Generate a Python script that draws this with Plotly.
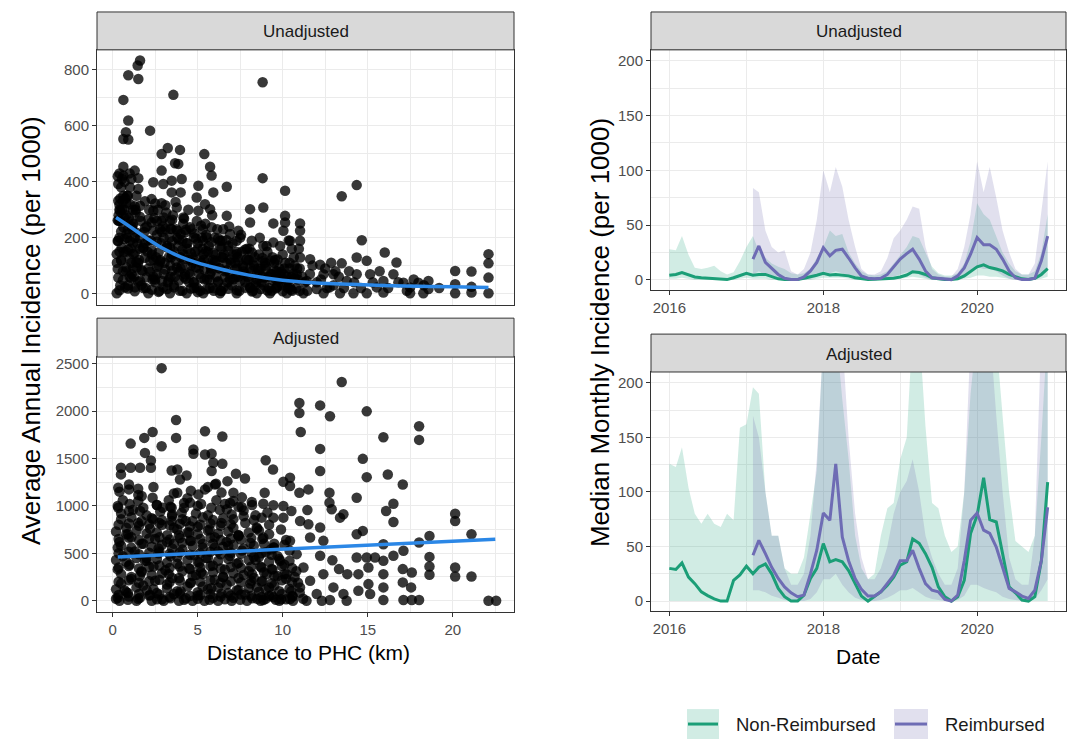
import plotly.graph_objects as go
import pandas as pd

W, H = 1072, 739
def px(x): return x / W
def py(y): return 1 - y / H

# ---------------- DATA ----------------
# Unadjusted: distance (km) vs average annual incidence (per 1000)
unadj_x = [1.61,1.47,0.92,1.51,8.82,3.57,0.63,0.92,0.78,0.63,0.92,2.2,3.24,3.96,2.88,5.39,3.67,3.86,5.73,5.82,
           0.63,2.88,0.63,1.51,8.82,14.35,13.47,10.14,6.71,5.04,3.47,4.06,2.39,2.98,0.33,1.02,1.51,3.47,4.0,5.92,
           0.33,0.63,2.29,2.88,4.94,5.43,5.73,5.04,1.61,1.02,0.43,2.39,3.77,4.16,6.71,8.08,8.86,8.08,10.14,10.14,
           9.45,11.02,11.02,10.04,7.39,6.9,2.88,3.37,2.29,2.78,3.47,4.55,5.2,5.82,4.0,4.78,5.53,6.31,7.29,8.18,
           8.86,9.45,10.43,11.02,14.65,10.53,16.0,14.35,14.94,16.69,13.47,12.2,11.61,11.02,22.1,22.1,22.1,22.1,20.14,21.1,
           20.14,21.1,20.14,21.1,18.57,17.98,17.49,17.1,16.51,15.92,15.53,15.92,17.49,18.57,15.14,14.35,13.76,12.98,12.76,12.4,
           12.0,11.41,10.82,10.43,10.04,9.65,9.35,8.86,8.47,8.08,7.69,7.29,6.9,6.51,6.12,5.73,5.33,4.94,4.55,4.16,
           3.77,3.37,2.98,2.59,2.2,2.1,1.8,1.61,1.41,1.22,1.02,0.82,0.63,0.43,0.33,0.24,0.33,0.24,0.53,0.82,
           1.12,0.73,1.31,3.37,4.35,5.33,6.31,7.29,8.47,9.25,10.24,11.22,12.4,13.37,14.16,14.94,18.27,
           0.5,0.8,1.0,1.3,1.5,1.7,1.9,2.1,2.3,2.5,2.6,2.8,3.0,3.2,3.4,3.6,3.8,4.0,4.2,4.4,
           4.6,4.8,5.0,5.2,5.4,5.6,5.8,6.0,6.2,6.4,6.6,6.8,7.0,7.2,7.4,7.6,7.8,8.0,8.2,8.4,
           8.6,8.8,9.0,9.2,9.4,9.6,9.8,10.0,10.2,10.4,10.6,10.8,11.0,11.3,11.6,12.0,12.5,13.0,13.3,1.2,
           2.0,3.1,4.3,5.5,6.5,7.5,0.4,0.6,0.9,1.1,1.6,2.4,2.7,3.3,3.5,3.9,4.1,4.5,4.7,5.1,
           5.3,5.7,5.9,6.1,6.3,6.7,6.9,7.1,7.3,7.7,7.9,8.1,8.3,8.5,8.7,8.9,9.1,9.3,9.5,9.7,
           9.9,10.1,10.3,10.5,10.7,10.9,0.35,0.45,0.55,0.7,1.15,1.35,0.4,0.85,
           0.25,0.35,0.45,0.55,0.65,0.75,0.85,0.95,1.05,1.15,1.25,1.35,1.45,1.55,1.65,1.75,1.85,1.95,2.05,2.15,
           2.25,2.35,2.45,2.55,2.65,2.75,2.85,2.95,3.05,3.15,3.25,3.35,3.45,3.55,3.65,3.75,3.85,3.95,4.05,4.15,
           4.25,4.35,4.45,4.55,4.65,4.75,4.85,4.95,5.05,5.15,5.25,5.35,5.45,5.55,5.65,5.75,5.85,5.95,6.05,6.15,
           6.25,6.35,6.45,6.55,6.75,6.85,6.95,7.05,7.25,7.35,7.45,7.55,7.65,7.85,7.95,8.05,8.25,8.35,8.55,8.65,
           8.75,8.95,9.05,9.15,9.35,9.55,9.65,9.85,9.95,10.15,10.25,10.35,10.55,10.65,10.85,10.95,11.15,11.45,11.75,12.25,
           12.6,12.85,13.1,13.6,13.9,14.2,14.6,15.3,15.7,16.2,16.8,17.3,17.7,18.3,19.2,
           0.3,0.5,0.7,0.9,1.1,1.3,0.4,0.6,0.8,1.0,1.2,1.4,
           0.4,0.9,1.3,1.8,2.3,2.7,3.2,3.6,4.1,4.6,5.0,5.5,5.9,6.4,6.8,7.3,7.8,8.2,8.7,9.1,9.6,10.0,10.5,11.0,
           0.6,1.1,1.5,2.0,2.5,2.9,3.4,3.9,4.3,4.8,5.2,5.7,6.2,6.6,7.1,7.5,8.0,8.4,8.9,9.4,9.8,10.3,10.7,
           0.3,0.8,1.2,1.7,2.2,2.6,3.1,3.5,4.0,4.5,4.9,5.4,5.8,6.3,6.7,7.2,7.7,8.1,8.6,9.0,9.5,9.9,10.4,
           0.5,1.0,1.4,1.9,2.4,2.8,3.3,3.7,4.2,4.7,5.1,5.6,6.0,6.5,6.9,7.4,7.9,8.3,8.8,9.3,9.7,
           0.4,0.9,1.3,1.8,2.3,2.7,3.2,3.6,4.1,4.6,5.0,5.5,5.9,6.4,6.8,7.3,7.8,8.2,
           0.3,0.7,1.2,1.6,2.1,2.6,3.0,3.5,3.9,4.4,4.9,5.3,5.8,6.2,6.7,
           0.5,0.9,1.4,1.9,2.4,2.9,3.4,3.8,4.3,4.8,5.3,
           0.3,0.7,1.1,1.6,2.1,2.6,3.0,3.5,4.2,
           0.4,0.8,1.3,1.9,2.5,3.1,3.7]
unadj_y = [834,816,781,768,756,711,693,619,577,553,551,583,521,514,499,499,466,464,454,422,
           454,440,422,413,413,388,348,368,382,386,404,410,398,392,392,380,374,362,362,362,
           332,350,338,323,344,320,302,296,314,320,296,296,308,272,278,302,308,254,278,254,
           251,251,225,225,225,213,260,260,254,231,231,237,243,237,213,201,201,189,189,189,
           171,183,189,189,191,159,147,129,117,111,108,103,123,129,141,108,57,1,81,79,
           33,24,1,4,45,39,22,39,69,45,22,4,1,16,69,69,45,69,22,69,
           16,45,69,22,69,22,69,117,69,22,93,141,69,22,117,69,141,22,69,141,
           93,165,22,69,117,1,165,45,93,141,189,213,237,260,189,141,57,1,165,93,
           69,22,22,1,1,1,1,1,1,1,1,1,1,1,1,1,1,
           120,150,60,200,110,30,180,90,140,40,210,120,70,170,100,30,200,130,60,160,
           100,20,180,110,50,150,90,200,40,130,80,170,30,110,60,150,40,120,80,30,
           140,60,100,20,130,50,90,140,40,110,70,20,90,40,70,40,90,30,60,250,
           240,230,220,210,230,200,200,80,30,110,160,60,100,50,140,80,190,40,130,70,
           160,20,120,60,170,110,50,140,90,70,160,20,100,50,90,30,150,70,110,30,
           60,90,20,60,100,50,280,340,410,300,230,290,430,350,
           110,260,30,300,150,340,200,270,160,240,60,300,180,120,260,80,220,20,150,300,
           190,50,270,130,300,10,180,240,110,290,40,200,130,280,60,230,170,10,100,250,
           70,180,300,120,230,40,150,260,90,10,200,120,250,50,170,100,280,10,140,230,
           90,10,190,140,40,240,110,180,60,130,10,210,100,120,60,160,10,130,90,200,
           40,110,170,60,10,120,80,170,30,110,60,190,10,130,90,160,60,10,100,50,
           20,110,80,20,80,40,20,40,80,20,40,10,50,30,20,
           420,380,400,350,410,440,300,330,280,430,300,350,
           12,18,8,20,14,6,16,22,10,18,5,15,20,9,17,12,21,7,16,11,19,8,14,10,
           48,55,42,58,50,45,60,47,53,40,56,49,44,58,51,46,54,41,57,48,52,45,55,
           88,80,92,84,78,95,86,82,90,76,94,85,80,91,83,87,79,93,81,89,84,77,90,
           118,125,112,128,120,115,130,117,123,110,126,119,114,128,121,116,124,111,127,118,122,
           150,158,145,162,153,148,165,151,157,144,160,152,147,163,154,149,158,146,
           188,195,182,198,190,185,200,187,193,180,196,189,184,197,191,
           222,230,218,235,226,220,232,224,228,215,230,
           262,270,258,275,266,260,272,264,268,
           318,325,312,330,322,316,328]

# Adjusted
adj_x = [2.88,13.47,10.98,10.98,12.2,12.78,14.94,11.06,3.73,3.73,5.43,6.45,2.35,1.86,1.06,2.88,4.75,4.75,5.43,5.82,
         5.92,6.45,5.82,1.9,2.25,2.25,1.61,1.06,0.49,0.49,3.47,3.8,3.96,4.35,6.08,6.75,7.25,7.78,9.0,9.43,
         12.2,12.2,14.71,14.94,15.92,16.18,18.02,18.02,17.06,16.51,16.51,16.08,14.35,12.75,12.75,12.88,13.57,13.37,11.51,10.98,
         10.43,10.04,10.43,8.94,8.86,8.18,9.45,10.04,10.51,11.45,10.04,9.45,8.76,7.59,7.1,7.1,6.71,6.02,5.43,5.04,
         4.55,4.06,3.47,3.8,2.94,2.35,1.71,1.51,0.96,0.96,0.33,0.33,0.96,1.61,2.39,3.47,14.71,14.35,20.14,20.14,
         21.1,18.63,18.02,18.63,18.63,18.63,20.14,20.14,21.1,22.1,22.55,18.02,17.59,17.1,17.06,17.59,17.06,17.55,17.1,16.51,
         15.92,15.92,15.92,15.92,15.92,15.43,14.94,14.35,15.04,14.45,15.04,14.45,15.14,13.8,13.31,12.92,12.2,12.39,12.2,11.61,
         11.51,11.02,12.39,12.98,13.57,13.76,12.78,12.0,11.61,11.22,10.82,10.43,11.02,10.43,10.24,9.84,9.45,8.86,8.47,9.06,
         8.47,9.45,8.86,
         0.3,0.9,1.5,2.2,2.9,3.6,4.3,5.0,5.7,6.4,7.1,7.8,8.5,9.2,9.9,10.6,11.2,
         0.5,1.1,1.8,2.5,3.2,3.9,4.6,5.3,6.0,6.7,7.4,8.1,8.8,9.5,10.2,10.9,
         0.3,1.0,1.7,2.4,3.1,3.8,4.5,5.2,5.9,6.6,7.3,8.0,8.7,9.4,10.1,10.8,
         0.6,1.3,2.0,2.7,3.4,4.1,4.8,5.5,6.2,6.9,7.6,8.3,9.0,9.7,10.4,
         0.4,1.1,1.8,2.5,3.2,3.9,4.6,5.3,6.0,6.7,7.4,8.1,8.8,9.5,10.2,
         0.8,1.5,2.2,2.9,3.6,4.3,5.0,5.7,6.4,7.1,7.8,8.5,9.2,9.9,
         0.5,1.2,2.0,2.8,3.5,4.2,4.9,5.6,6.3,7.0,7.7,8.4,9.1,
         1.5,2.6,3.3,4.4,5.2,6.1,6.9,7.6,0.6,
         0.4,1.4,2.3,3.0,3.9,4.7,5.4,6.2,7.0,7.9,8.7,9.8,10.6,11.4,12.3,
         0.7,1.6,2.4,3.3,4.0,4.9,5.8,6.5,7.3,8.2,9.0,9.7,10.5,
         0.3,1.9,3.6,5.1,6.8,8.4,0.9,2.7,4.5,6.0,7.4,9.3,
         0.2,0.8,1.4,2.0,2.6,3.2,3.8,4.4,5.0,5.6,6.2,6.8,7.4,8.0,8.6,9.2,9.8,10.4,11.0,
         0.5,1.1,1.7,2.3,2.9,3.5,4.1,4.7,5.3,5.9,6.5,7.1,7.7,8.3,8.9,9.5,10.1,10.7,
         0.2,0.8,1.4,2.0,2.6,3.2,3.8,4.4,5.0,5.6,6.2,6.8,7.4,8.0,8.6,9.2,9.8,10.4,
         0.5,1.1,1.7,2.3,2.9,3.5,4.1,4.7,5.3,5.9,6.5,7.1,7.7,8.3,8.9,9.5,10.1,
         0.2,0.8,1.4,2.0,2.6,3.2,3.8,4.4,5.0,5.6,6.2,6.8,7.4,8.0,8.6,9.2,
         0.5,1.1,1.7,2.3,2.9,3.5,4.1,4.7,5.3,5.9,6.5,7.1,7.7,8.3,
         0.3,1.0,1.8,2.6,3.4,4.2,5.0,5.8,6.6,7.4,8.2,
         0.4,1.5,2.4,3.6,4.6,5.6,6.4,
         0.2,0.9,1.6,2.6,3.4,4.2,5.0,5.9,6.6,7.5,8.2,9.0,9.6,10.2,
         0.35,0.95,1.55,2.15,2.75,3.35,3.95,4.55,5.15,5.75,6.35,6.95,7.55,8.15,8.75,9.35,9.95,10.55,
         0.35,0.95,1.55,2.15,2.75,3.35,3.95,4.55,5.15,5.75,6.35,6.95,7.55,8.15,8.75,9.35,9.95,10.55,
         0.35,0.95,1.55,2.15,2.75,3.35,3.95,4.55,5.15,5.75,6.35,6.95,7.55,8.15,8.75,9.35,9.95,10.55,
         0.35,0.95,1.55,2.15,2.75,3.35,3.95,4.55,5.15,5.75,6.35,6.95,7.55,8.15,8.75,9.35,
         0.35,0.95,1.55,2.15,2.75,3.35,3.95,4.55,5.15,5.75,6.35,6.95,7.55,8.15,
         0.35,0.95,1.55,2.15,2.75,3.35,3.95,4.55,5.15,5.75,6.35,6.95]
adj_y = [2453,2306,2085,1980,2060,1945,1997,1780,1906,1717,1787,1731,1780,1717,1657,1629,1594,1549,1542,1549,
         1454,1444,1367,1559,1479,1402,1402,1402,1402,1332,1374,1384,1279,1321,1233,1261,1339,1289,1482,1384,
         1601,1367,1496,1303,1724,1331,1840,1696,1226,1023,830,946,1086,1139,1034,964,911,876,1174,1139,
         1296,1254,1209,1139,1023,1041,1006,999,946,957,876,876,876,988,1139,1051,964,1226,1174,1121,
         1034,929,981,1139,981,1086,1104,1114,1226,1174,1191,981,946,946,858,841,736,701,918,841,
         701,683,613,462,361,273,350,256,256,0,0,7,7,7,193,298,333,140,526,473,
         596,420,280,140,7,455,455,455,350,280,175,105,70,280,333,427,473,631,771,666,
         806,841,280,140,70,0,7,70,210,350,491,631,140,18,280,420,561,666,771,280,
         140,35,7,
         30,80,20,60,15,70,25,55,10,75,30,65,20,50,15,45,20,
         180,230,160,210,170,240,190,150,220,170,240,180,210,160,230,190,
         330,380,310,360,320,390,340,300,370,330,390,310,360,330,380,310,
         470,520,450,500,470,540,480,450,520,470,530,460,510,470,530,
         620,670,600,650,620,690,630,600,670,620,680,610,650,600,640,
         770,820,760,800,770,840,780,750,820,770,820,760,800,750,
         920,960,900,940,910,980,920,900,960,910,950,900,930,
         1050,1010,1060,1080,1020,1060,1030,1090,1060,
         0,0,0,0,0,0,0,0,0,0,0,0,0,0,0,
         110,260,120,280,100,270,130,250,110,280,120,260,100,
         560,420,600,400,580,430,700,550,720,560,690,540,
         120,90,140,110,80,130,100,150,90,120,140,80,110,130,95,140,100,125,85,
         280,250,300,270,290,240,310,260,280,300,250,290,270,240,300,260,280,250,
         430,410,450,420,440,400,460,430,410,450,420,440,400,430,460,410,440,420,
         580,560,600,570,590,550,610,580,560,600,570,590,550,580,600,560,590,
         730,700,740,710,720,690,750,720,700,740,710,730,690,720,740,700,
         860,880,840,870,850,890,860,840,880,850,870,860,890,850,
         1000,1020,980,1010,990,1030,1000,980,1020,990,1010,
         1150,1180,1200,1130,1160,1200,1140,
         20,10,30,15,25,10,20,30,15,10,25,20,10,15,
         60,45,70,55,65,40,75,50,60,70,45,55,65,50,40,60,70,50,
         200,215,190,205,220,195,210,185,200,215,190,205,195,210,200,185,215,195,
         350,365,340,355,370,345,360,335,350,365,340,355,345,360,350,335,365,345,
         500,515,490,505,520,495,510,485,500,515,490,505,495,510,500,485,
         650,665,640,655,670,645,660,635,650,665,640,655,645,660,
         800,815,790,805,820,795,810,785,800,815,790,805]

# Smooth fits
smooth_unadj_x = [0.2, 1, 2, 3, 4, 5, 6, 7, 8, 9, 10, 12, 14, 16, 18, 20, 22.1]
smooth_unadj_y = [272, 240, 198, 160, 131, 110, 93, 78, 66, 56, 48, 38, 33, 29, 26, 24, 22]
smooth_adj_x = [0.3, 5, 10, 15, 20, 22.5]
smooth_adj_y = [462, 501, 543, 585, 627, 648]

# Monthly series: Non-Reimbursed from Jan 2016, Reimbursed from Feb 2017
months = pd.date_range("2016-01-01", periods=60, freq="MS")
reimb_start = "2017-02-01"

nonreimb_unadj = [4.3,5,6.7,4.3,2.7,2,1.5,1,0.3,0.3,2,4.3,
                  6,4.3,5,5,2.7,1,0.3,0.3,0.3,1.5,2.7,4.3,
                  6,4.5,5,4.5,3.7,2,1,0.3,0.6,1,1,1.5,
                  2.7,4.5,7.5,6.7,5,2,1,0.3,0.3,1,3.7,8.2,
                  12,13.7,11.3,10,8.2,5,2.7,1,0.3,1.5,5,10.4]
nonreimb_unadj_lo = [1,1,2,1,0,0,0,0,0,0,0,1, 2,1,1,1,0,0,0,0,0,0,0,1,
                     2,2,2,2,1,0,0,0,0,0,0,1, 1,2,3,2,1,0,0,0,0,0,1,2,
                     4,4,3,3,2,1,0,0,0,0,1,3]
nonreimb_unadj_hi = [28,27,40,23,11,10,11,13,8,5,7,17, 30,40,26,20,15,12,10,6,5,6,10,20,
                     30,45,40,42,25,15,8,5,4,5,8,15, 22,30,40,38,25,12,6,4,4,6,15,35,
                     70,60,55,40,25,15,8,5,5,8,25,60]
reimb_unadj = [19,31,16,11,5,1.5,0.3,0.3,2.7,8.2,16,29.5,
               22,27,28,20,11,3.7,1.5,1,1.5,5,12,19,
               24,28,19,8.2,2,1.5,0.3,0.3,3.7,11,23.5,38.7,
               32,32,28,19,8.2,2,0.3,0.3,1.5,17.4,40]
reimb_unadj_lo = [5,8,4,2,1,0,0,0,0,1,3,8, 6,8,6,3,1,0,0,0,0,1,3,5,
                  7,8,5,2,0,0,0,0,0,2,6,12, 10,10,8,4,1,0,0,0,0,3,10]
reimb_unadj_hi = [84,80,45,30,25,27,8,5,10,25,55,100, 80,103,85,55,30,10,5,5,8,20,38,45,
                  55,67,65,30,10,5,3,3,10,30,60,108, 80,103,75,45,25,10,5,5,15,60,108]

nonreimb_adj = [30,29,35,22,16,8.5,5,2,0,0,19,24,
                32,25,31,34,25,11.6,4,0,0,5.5,20.7,30,
                52.7,36,38,36,28,16,4.6,0,4,8.5,14.6,22,
                33,36,57,53,43.5,31,13,4,0,4,19,62,
                78.5,113,74.6,72.5,43.5,13,7.6,1,0,4,37,109]
nonreimb_adj_lo = [0]*60
nonreimb_adj_hi = [126,123,141,104,80,71,80,71,68,80,74,159,
                   162,196,190,100,60,60,30,25,25,40,80,120,
                   240,260,250,185,130,60,30,20,25,60,85,90,
                   130,150,250,250,160,90,85,60,45,50,100,190,
                   250,260,260,240,170,100,55,50,45,60,150,250]
reimb_adj = [42,55.7,43.5,31,20.7,13,7.6,4,5.5,25,46.6,80.7,
             74,125.7,58.8,37,20.7,10.7,4.6,4.6,8.5,16,23.7,37,
             37,46.6,30,16,10,8.5,1.5,0,5.5,37,74,80.7,
             65,62,49.6,31,11.6,8.5,4.6,2.4,10,37,86]
reimb_adj_lo = [10,10,8,5,3,1,0,0,0,2,8,20, 20,25,15,8,3,1,0,0,1,3,6,10,
                10,12,8,4,2,1,0,0,1,5,15,15, 12,10,8,4,2,1,0,0,2,10,20]
reimb_adj_hi = [170,150,100,60,60,30,15,15,25,60,130,240, 260,260,240,150,80,40,20,20,30,50,80,100,
                110,130,100,60,40,25,15,15,30,100,240,260, 260,250,170,100,40,20,15,15,60,250,250]

panel_titles = ["Unadjusted", "Adjusted"]
series_names = ["Non-Reimbursed", "Reimbursed"]

# ---------------- STYLE ----------------
GREEN = "#1b9e77"
PURPLE = "#6e6cb4"
GREEN_FILL = "rgba(27,158,119,0.20)"
PURPLE_FILL = "rgba(117,112,179,0.22)"
FONT = "Liberation Sans, Arial, sans-serif"
GRID = "#ebebeb"
BORDER = "#333333"
TICKC = "#4d4d4d"

fig = go.Figure()

reimb_months = [m for m in months if m >= pd.Timestamp(reimb_start)]

# Left panels
pts = go.scatter.Marker(size=10.5, color="rgba(0,0,0,0.78)", line=dict(width=0))
fig.add_trace(go.Scatter(x=unadj_x, y=unadj_y, mode="markers", marker=pts,
                         xaxis="x", yaxis="y", showlegend=False, hoverinfo="skip"))
fig.add_trace(go.Scatter(x=smooth_unadj_x, y=smooth_unadj_y, mode="lines",
                         line=dict(color="#2b87e6", width=3.5, shape="spline"),
                         xaxis="x", yaxis="y", showlegend=False, hoverinfo="skip"))
fig.add_trace(go.Scatter(x=adj_x, y=adj_y, mode="markers", marker=pts,
                         xaxis="x2", yaxis="y2", showlegend=False, hoverinfo="skip"))
fig.add_trace(go.Scatter(x=smooth_adj_x, y=smooth_adj_y, mode="lines",
                         line=dict(color="#2b87e6", width=3.5),
                         xaxis="x2", yaxis="y2", showlegend=False, hoverinfo="skip"))

def ribbon(xs, lo, hi, fill, xa, ya):
    fig.add_trace(go.Scatter(x=xs, y=lo, mode="lines", line=dict(width=0),
                             xaxis=xa, yaxis=ya, showlegend=False, hoverinfo="skip"))
    fig.add_trace(go.Scatter(x=xs, y=hi, mode="lines", line=dict(width=0), fill="tonexty",
                             fillcolor=fill, xaxis=xa, yaxis=ya, showlegend=False, hoverinfo="skip"))

def line(xs, ys, color, xa, ya):
    fig.add_trace(go.Scatter(x=xs, y=ys, mode="lines", line=dict(color=color, width=3),
                             xaxis=xa, yaxis=ya, showlegend=False, hoverinfo="skip"))

ribbon(months, nonreimb_unadj_lo, nonreimb_unadj_hi, GREEN_FILL, "x3", "y3")
ribbon(reimb_months, reimb_unadj_lo, reimb_unadj_hi, PURPLE_FILL, "x3", "y3")
line(months, nonreimb_unadj, GREEN, "x3", "y3")
line(reimb_months, reimb_unadj, PURPLE, "x3", "y3")

ribbon(months, nonreimb_adj_lo, nonreimb_adj_hi, GREEN_FILL, "x4", "y4")
ribbon(reimb_months, reimb_adj_lo, reimb_adj_hi, PURPLE_FILL, "x4", "y4")
line(months, nonreimb_adj, GREEN, "x4", "y4")
line(reimb_months, reimb_adj, PURPLE, "x4", "y4")

# ---------------- AXES ----------------
def base_axis(**kw):
    d = dict(showgrid=True, gridcolor=GRID, gridwidth=1.1, zeroline=False,
             showline=True, mirror=True, linecolor=BORDER, linewidth=1,
             ticks="outside", ticklen=4, tickwidth=1, tickcolor=BORDER,
             tickfont=dict(family=FONT, size=15, color=TICKC))
    d.update(kw)
    return d

LX = [px(97), px(514)]
RX = [px(651), px(1066)]
MINOR = dict(showgrid=True, gridcolor=GRID, gridwidth=0.55)

fig.update_layout(
    xaxis=base_axis(domain=LX, anchor="y", range=[-0.92, 23.6], tick0=0, dtick=5,
                    showticklabels=False, ticks="", minor=dict(dtick=2.5, **MINOR)),
    yaxis=base_axis(domain=[py(304), py(48)], anchor="x", range=[-41.6, 872], tick0=0, dtick=200,
                    minor=dict(dtick=100, **MINOR)),
    xaxis2=base_axis(domain=LX, anchor="y2", range=[-0.92, 23.6], tick0=0, dtick=5,
                     minor=dict(dtick=2.5, **MINOR)),
    yaxis2=base_axis(domain=[py(612), py(356)], anchor="x2", range=[-123, 2570], tick0=0, dtick=500,
                     minor=dict(dtick=250, **MINOR)),
    xaxis3=base_axis(domain=RX, anchor="y3", type="date", range=["2015-10-06", "2021-02-26"],
                     tick0="2016-01-01", dtick="M24", tickformat="%Y",
                     minor=dict(dtick="M12", **MINOR)),
    yaxis3=base_axis(domain=[py(289), py(48)], anchor="x3", range=[-9.4, 210], tick0=0, dtick=50,
                     minor=dict(dtick=25, **MINOR)),
    xaxis4=base_axis(domain=RX, anchor="y4", type="date", range=["2015-10-06", "2021-02-26"],
                     tick0="2016-01-01", dtick="M24", tickformat="%Y",
                     minor=dict(dtick="M12", **MINOR)),
    yaxis4=base_axis(domain=[py(611), py(371)], anchor="x4", range=[-9.4, 210], tick0=0, dtick=50,
                     minor=dict(dtick=25, **MINOR)),
)

# ---------------- STRIPS, TITLES, LEGEND ----------------
shapes = []
annots = []
strips = [(97, 514, 10, 48, panel_titles[0]), (97, 514, 317, 356, panel_titles[1]),
          (651, 1066, 10, 48, panel_titles[0]), (651, 1066, 333, 371, panel_titles[1])]
for x0, x1, y0, y1, t in strips:
    shapes.append(dict(type="rect", xref="paper", yref="paper", x0=px(x0), x1=px(x1),
                       y0=py(y1), y1=py(y0), fillcolor="#d9d9d9",
                       line=dict(color=BORDER, width=1), layer="above"))
    annots.append(dict(text=t, xref="paper", yref="paper", x=px((x0 + x1) / 2), y=py((y0 + y1) / 2 + 1),
                       showarrow=False, xanchor="center", yanchor="middle",
                       font=dict(family=FONT, size=17, color="#1a1a1a")))

xt_font = dict(family=FONT, size=21, color="#000000")
yt_font = dict(family=FONT, size=26, color="#000000")
annots += [
    dict(text="Average Annual Incidence (per 1000)", xref="paper", yref="paper", x=px(31), y=py(330),
         textangle=-90, showarrow=False, xanchor="center", yanchor="middle", font=yt_font),
    dict(text="Median Monthly Incidence (per 1000)", xref="paper", yref="paper", x=px(600), y=py(332),
         textangle=-90, showarrow=False, xanchor="center", yanchor="middle", font=yt_font),
    dict(text="Distance to PHC (km)", xref="paper", yref="paper", x=px(308), y=py(652),
         showarrow=False, xanchor="center", yanchor="middle", font=xt_font),
    dict(text="Date", xref="paper", yref="paper", x=px(858), y=py(656),
         showarrow=False, xanchor="center", yanchor="middle", font=xt_font),
]

legend_items = [(687, 719, 734, GREEN_FILL, GREEN, series_names[0]),
                (894, 928, 943, PURPLE_FILL, PURPLE, series_names[1])]
for bx0, bx1, tx, fill, col, name in legend_items:
    shapes.append(dict(type="rect", xref="paper", yref="paper", x0=px(bx0), x1=px(bx1),
                       y0=py(739), y1=py(709), fillcolor=fill, line=dict(width=0)))
    shapes.append(dict(type="line", xref="paper", yref="paper", x0=px(bx0 + 1), x1=px(bx1 - 1),
                       y0=py(724), y1=py(724), line=dict(color=col, width=3)))
    annots.append(dict(text=name, xref="paper", yref="paper", x=px(tx), y=py(724),
                       showarrow=False, xanchor="left", yanchor="middle",
                       font=dict(family=FONT, size=18.5, color="#1a1a1a")))

fig.update_layout(shapes=shapes, annotations=annots, width=W, height=H,
                  margin=dict(l=0, r=0, t=0, b=0), plot_bgcolor="white", paper_bgcolor="white",
                  showlegend=False)

fig.write_html("out.html", config={"displayModeBar": False},
               post_script="document.body.style.margin='0px';")
